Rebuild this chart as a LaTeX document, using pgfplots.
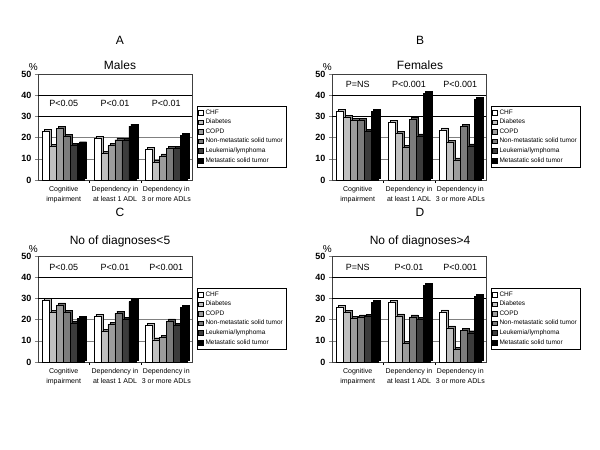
\documentclass[border=0pt]{standalone}
\usepackage{fontspec}
\setmainfont{Liberation Sans}
\usepackage{pgfplots}
\usepackage{pgfplotstable}
\pgfplotsset{compat=1.18}

\definecolor{cDiab}{HTML}{C0C0C0}
\definecolor{cCopd}{HTML}{9C9C9C}
\definecolor{cNon}{HTML}{7C7C7C}
\definecolor{cLeuk}{HTML}{3C3C3C}

% columns: group, CHF, Diabetes, COPD, non-metastatic, leukemia, metastatic
\pgfplotstableread{
x chf diab copd nonmet leuk met
0 23.0 16.0 24.5 20.5 16.3 17.1
1 19.8 12.7 16.2 19.0 18.7 25.4
2 14.6 8.3 11.4 14.8 15.0 21.0
}\males
\pgfplotstableread{
x chf diab copd nonmet leuk met
0 32.3 29.6 28.0 28.0 22.9 32.3
1 27.1 22.0 15.5 28.7 20.8 41.0
2 23.7 17.7 9.5 25.2 16.1 37.9
}\females
\pgfplotstableread{
x chf diab copd nonmet leuk met
0 29.2 23.5 27.0 23.4 18.5 20.5
1 21.5 14.6 17.7 23.0 20.0 28.5
2 17.4 10.5 11.5 19.4 17.4 25.8
}\fewdx
\pgfplotstableread{
x chf diab copd nonmet leuk met
0 25.9 23.3 20.5 21.3 21.6 28.0
1 28.0 21.7 8.9 21.3 20.2 36.3
2 23.6 16.1 6.0 14.8 13.8 31.0
}\manydx

\pgfplotsset{
  panel/.style={
    scale only axis, width=154pt, height=106pt, anchor=south west,
    ybar, bar width=7pt, clip=false,
    xmin=-0.5, xmax=2.5, ymin=0, ymax=50,
    enlarge x limits=false,
    ytick={0,10,...,50},
    xtick={0,1,2},
    xticklabels={Cognitive\\impairment, Dependency in\\at least 1 ADL, Dependency in\\3 or more ADLs},
    xticklabel style={font=\fontsize{7}{10}\selectfont, align=center},
    yticklabel style={font=\bfseries\fontsize{9}{10}\selectfont},
    /pgf/number format/assume math mode=true,
    xtick pos=bottom, ytick pos=left,
    minor xtick={0.5,1.5},
    tick align=outside,
    xtick style={draw=none},
    minor x tick style={draw=black},
    minor tick length=3pt, major tick length=3pt,
    ymajorgrids, grid style={gray, line width=0.5pt},
    extra y ticks={30,40}, extra y tick labels={},
    extra y tick style={grid style={black, line width=0.6pt}, major tick length=0pt},
    axis line style={black!75},
    legend style={at={(1.03,0.12)}, anchor=south west,
      font=\fontsize{6.5}{7}\selectfont, draw=black, row sep=-0.6pt,
      inner sep=1.5pt, cells={anchor=west}},
    legend image code/.code={\draw[#1,draw=black] (0pt,-2.4pt) rectangle (4.8pt,2.4pt);},
    every axis plot/.append style={draw=black, line width=0.4pt},
  },
}

% depth face of a bar, drawn first and offset up and right
\newcommand{\side}[4]{%
  \addplot[fill=#3, bar shift=#4, yshift=2pt, forget plot] table[x=x,y=#2] {#1};}
\newcommand{\bars}[1]{%
  \side{#1}{chf}{gray!55}{-15.5pt}
  \side{#1}{diab}{cDiab!70!black}{-8.5pt}
  \side{#1}{copd}{cCopd!70!black}{-1.5pt}
  \side{#1}{nonmet}{cNon!70!black}{5.5pt}
  \side{#1}{leuk}{cLeuk!70!black}{12.5pt}
  \side{#1}{met}{black}{19.5pt}
  \addplot[fill=white, bar shift=-17.5pt] table[x=x,y=chf] {#1};
  \addplot[fill=cDiab, bar shift=-10.5pt] table[x=x,y=diab] {#1};
  \addplot[fill=cCopd, bar shift=-3.5pt] table[x=x,y=copd] {#1};
  \addplot[fill=cNon, bar shift=3.5pt] table[x=x,y=nonmet] {#1};
  \addplot[fill=cLeuk, bar shift=10.5pt] table[x=x,y=leuk] {#1};
  \addplot[fill=black, bar shift=17.5pt] table[x=x,y=met] {#1};
  \legend{CHF, Diabetes, COPD, Non-metastatic solid tumor, Leukemia/lymphoma, Metastatic solid tumor}
}
\newcommand{\pv}[4]{%
  \node[font=\fontsize{9}{10}\selectfont] at (axis cs:0,#1) {#2};
  \node[font=\fontsize{9}{10}\selectfont] at (axis cs:1,#1) {#3};
  \node[font=\fontsize{9}{10}\selectfont] at (axis cs:2,#1) {#4};
  \node[font=\fontsize{10}{10}\selectfont, anchor=south] at (rel axis cs:-0.03,1.0) {\%};
}

\begin{document}
\begin{tikzpicture}
\path[use as bounding box] (0pt,0pt) rectangle (600pt,450pt);

\node[font=\fontsize{12}{12}\selectfont] at (120pt,410pt) {A};
\node[font=\fontsize{12}{12}\selectfont] at (420pt,410pt) {B};
\node[font=\fontsize{12}{12}\selectfont] at (120pt,238pt) {C};
\node[font=\fontsize{12}{12}\selectfont] at (420pt,238pt) {D};

\node[font=\fontsize{12}{12}\selectfont, anchor=base] at (120pt,380pt) {Males};
\node[font=\fontsize{12}{12}\selectfont, anchor=base] at (420pt,380pt) {Females};
\node[font=\fontsize{12}{12}\selectfont, anchor=base] at (120pt,205pt) {No of diagnoses<5};
\node[font=\fontsize{12}{12}\selectfont, anchor=base] at (420pt,205pt) {No of diagnoses>4};

\begin{axis}[panel, at={(38pt,270pt)}]
\bars{\males}
\pv{36}{P<0.05}{P<0.01}{P<0.01}
\end{axis}

\begin{axis}[panel, at={(332pt,270pt)}]
\bars{\females}
\pv{45}{P=NS}{P<0.001}{P<0.001}
\end{axis}

\begin{axis}[panel, at={(38pt,88pt)}]
\bars{\fewdx}
\pv{44.5}{P<0.05}{P<0.01}{P<0.001}
\end{axis}

\begin{axis}[panel, at={(332pt,88pt)}]
\bars{\manydx}
\pv{44.5}{P=NS}{P<0.01}{P<0.001}
\end{axis}
\end{tikzpicture}
\end{document}
